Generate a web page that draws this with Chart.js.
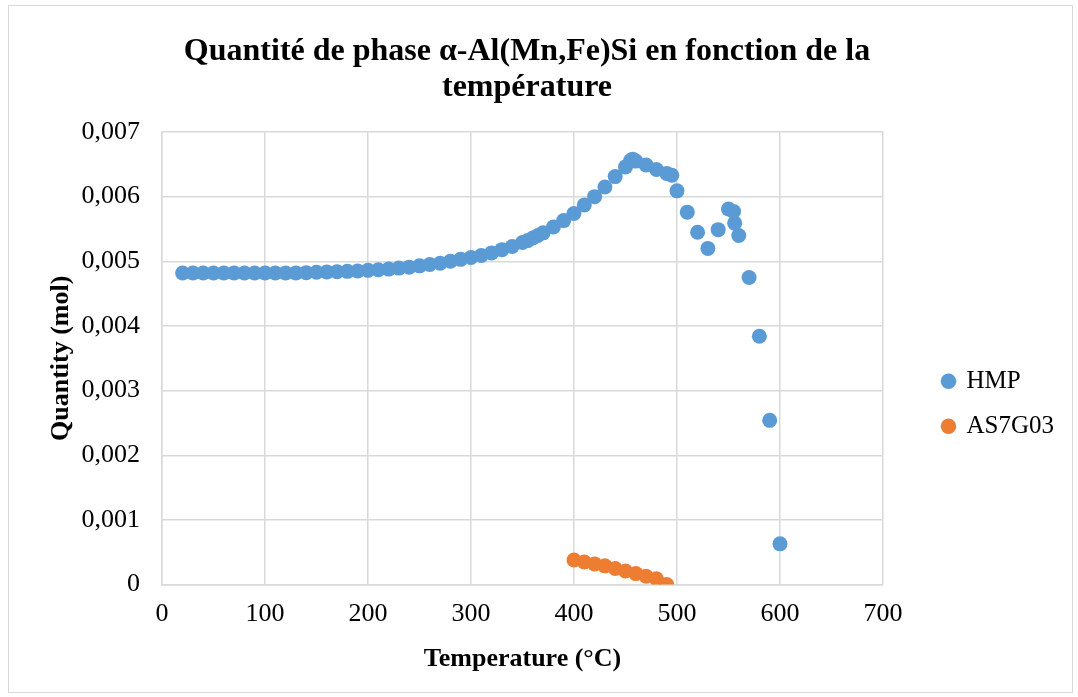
<!DOCTYPE html>
<html>
<head>
<meta charset="utf-8">
<script src="https://cdn.jsdelivr.net/npm/chart.js@4/dist/chart.umd.min.js"></script>
<style>
  html, body { margin: 0; padding: 0; background: #ffffff; }
  #wrap { position: relative; width: 1078px; height: 697px; }
</style>
</head>
<body>
<div id="wrap"><canvas id="c" width="1078" height="697"></canvas></div>
<script>
// ---- Data ----
const titleLines = ["Quantité de phase α-Al(Mn,Fe)Si en fonction de la", "température"];
const xTitle = "Temperature (°C)";
const yTitle = "Quantity (mol)";
const seriesNames = ["HMP", "AS7G03"];

const hmpTemp = [20,30,40,50,60,70,80,90,100,110,120,130,140,150,160,170,180,190,200,
  210,220,230,240,250,260,270,280,290,300,310,320,330,340,350,355,360,365,370,380,390,
  400,410,420,430,440,450,455,457,460,470,480,490,495,500,510,520,530,540,550,555,556,560,
  570,580,590,600];
const hmpQty = [0.00482,0.00482,0.00482,0.00482,0.00482,0.00482,0.00482,0.00482,0.00482,0.00482,
  0.00482,0.00482,0.004825,0.00483,0.004835,0.00484,0.004845,0.00485,0.00486,
  0.00487,0.00488,0.004895,0.00491,0.00493,0.00495,0.00497,0.00500,0.00503,0.00506,
  0.00509,0.00513,0.00518,0.00523,0.00529,0.00532,0.00536,0.00540,0.00544,0.00553,0.00563,
  0.00574,0.00587,0.00600,0.00615,0.00631,0.00646,0.00656,0.00658,0.00655,0.00649,0.00642,
  0.00636,0.00633,0.00609,0.00576,0.00545,0.00520,0.00549,0.00581,0.00577,0.00559,0.00540,
  0.00475,0.00384,0.00254,0.00063];

const as7Temp = [400,410,420,430,440,450,460,470,480,490];
const as7Qty = [0.00038,0.00035,0.00032,0.00029,0.00025,0.00021,0.00017,0.00013,0.00009,0.0000];

const xMin = 0, xMax = 700, xStep = 100;
const yMin = 0, yMax = 0.007, yStep = 0.001;

// ---- Build ----
const toXY = (xs, ys) => xs.map((x, i) => ({ x: x, y: ys[i] }));
const serif = "'Liberation Serif', 'Times New Roman', serif";

const frame = {
  id: 'frame',
  beforeDraw(chart) {
    const ctx = chart.ctx;
    ctx.save();
    ctx.fillStyle = '#ffffff';
    ctx.fillRect(0, 0, chart.width, chart.height);
    ctx.strokeStyle = '#d9d9d9';
    ctx.lineWidth = 1;
    ctx.strokeRect(8.5, 5.5, chart.width - 14, chart.height - 10);
    ctx.restore();
  }
};

new Chart(document.getElementById('c'), {
  type: 'scatter',
  data: {
    datasets: [
      { label: seriesNames[0], data: toXY(hmpTemp, hmpQty),
        backgroundColor: '#5B9BD5', borderColor: '#5B9BD5',
        pointRadius: 7.5, pointHoverRadius: 7.5, pointBorderWidth: 0 },
      { label: seriesNames[1], data: toXY(as7Temp, as7Qty),
        backgroundColor: '#ED7D31', borderColor: '#ED7D31',
        pointRadius: 7.5, pointHoverRadius: 7.5, pointBorderWidth: 0 }
    ]
  },
  options: {
    responsive: false,
    animation: false,
    layout: { padding: { left: -10, right: 14, top: 10, bottom: 18 } },
    plugins: {
      title: {
        display: true, text: titleLines, color: '#000000',
        font: { family: serif, size: 32, weight: 'bold', lineHeight: 1.125 },
        padding: { top: 24, bottom: 26 }
      },
      legend: {
        display: true, position: 'right',
        title: { display: true, text: ' ', font: { size: 12, lineHeight: 1.2 },
                 padding: { top: 0, bottom: 104 } },
        labels: {
          usePointStyle: true, pointStyle: 'circle', boxWidth: 11, boxHeight: 11,
          color: '#000000', padding: 20,
          font: { family: serif, size: 25 }
        }
      },
      tooltip: { enabled: false }
    },
    scales: {
      x: {
        type: 'linear', min: xMin, max: xMax,
        ticks: { stepSize: xStep, color: '#000000', padding: 14,
                 font: { family: serif, size: 26 } },
        grid: { color: '#d9d9d9', lineWidth: 1.5, drawTicks: false },
        border: { color: '#d9d9d9', width: 1.5 },
        title: { display: true, text: xTitle, color: '#000000',
                 font: { family: serif, size: 26, weight: 'bold' }, padding: { top: 0 } }
      },
      y: {
        type: 'linear', min: yMin, max: yMax,
        afterFit: s => { s.width = 172; },
        ticks: { stepSize: yStep, color: '#000000', padding: 22,
                 font: { family: serif, size: 26 },
                 callback: v => v === 0 ? '0' : v.toFixed(3).replace('.', ',') },
        grid: { color: '#d9d9d9', lineWidth: 1.5, drawTicks: false },
        border: { color: '#d9d9d9', width: 1.5 },
        title: { display: true, text: yTitle, color: '#000000',
                 font: { family: serif, size: 26, weight: 'bold' }, padding: { top: 56, bottom: 0 } }
      },
      gap: {
        type: 'linear', position: 'right', display: true,
        afterFit: s => { s.width = 40; },
        ticks: { display: false },
        grid: { display: false, drawTicks: false },
        border: { display: false }
      }
    }
  },
  plugins: [frame]
});
</script>
</body>
</html>
